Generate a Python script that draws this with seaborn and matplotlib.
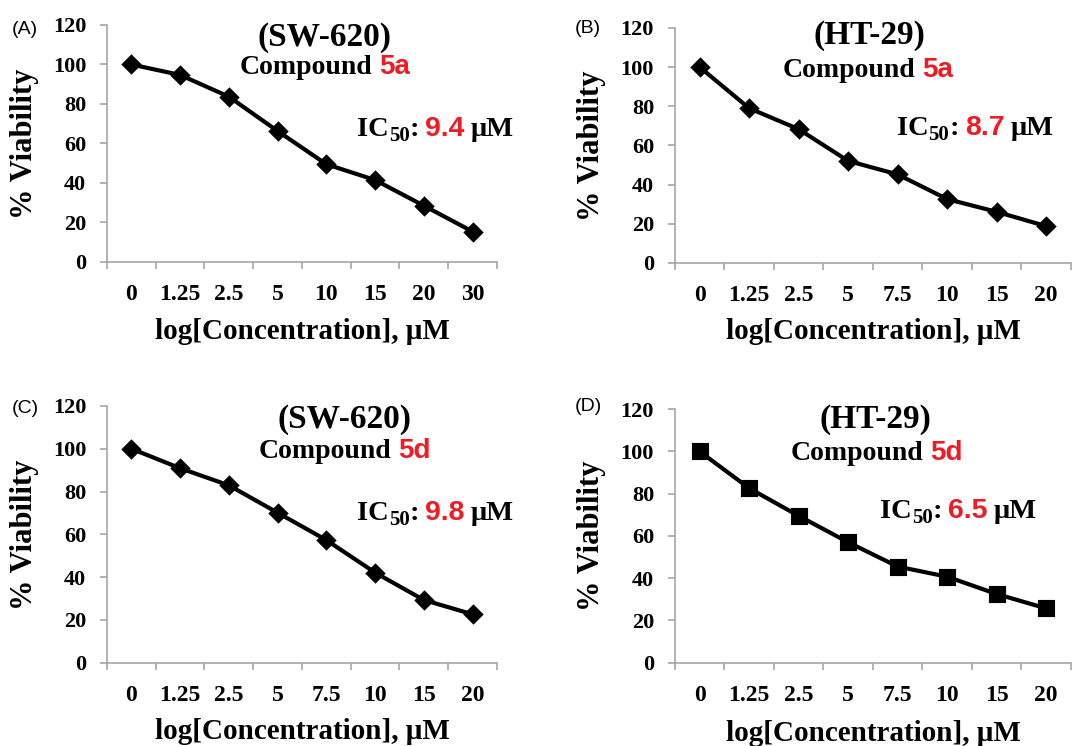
import matplotlib
matplotlib.use("Agg")
import matplotlib.pyplot as plt
from matplotlib.transforms import IdentityTransform
from matplotlib.ticker import FixedLocator
import seaborn as sns
import pandas as pd

# ---------------- data ----------------
conc_a = ['0', '1.25', '2.5', '5', '10', '15', '20', '30']
conc_b = ['0', '1.25', '2.5', '5', '7.5', '10', '15', '20']
via_a = [100, 94.7, 83.7, 66.3, 49.5, 41.5, 28.5, 15.4]   # SW-620, 5a
via_b = [100, 79.0, 68.3, 52.1, 45.2, 32.6, 26.1, 18.8]   # HT-29, 5a
via_c = [100, 90.9, 82.9, 70.1, 57.3, 42.1, 29.3, 22.6]   # SW-620, 5d
via_d = [100, 82.6, 69.5, 57.0, 45.5, 40.7, 32.5, 25.7]   # HT-29, 5d
panel_tags = ['(A)', '(B)', '(C)', '(D)']
cell_lines = ['(SW-620)', '(HT-29)', '(SW-620)', '(HT-29)']
compounds = ['5a', '5a', '5d', '5d']
ic50s = ['9.4', '8.7', '9.8', '6.5']
y_ticks = [0, 20, 40, 60, 80, 100, 120]

RED = '#EE1C25'
GRAY = '#A6A6A6'
SERIF = 'Liberation Serif'
SANS = 'Liberation Sans'

fig = plt.figure(figsize=(10.82, 7.46), dpi=100)
fig.patch.set_facecolor('white')

positions = [
    [0.0989, 0.6488, 0.3604, 0.3177],
    [0.6238, 0.6475, 0.3660, 0.3150],
    [0.0989, 0.1117, 0.3604, 0.3441],
    [0.6238, 0.1117, 0.3660, 0.3397],
]
series = [(conc_a, via_a), (conc_b, via_b), (conc_b, via_c), (conc_b, via_d)]
markers = ['D', 'D', 'D', 's']
msizes = [8, 8, 8, 10]

# text placement (axes fractions)
title_pos = [(0.559, 0.912), (0.492, 0.932), (0.61, 0.914), (0.507, 0.926)]
comp_pos = [(0.559, 0.792), (0.487, 0.792), (0.61, 0.796), (0.51, 0.80)]
ic_pos = [(0.641, 0.532), (0.56, 0.545), (0.641, 0.556), (0.518, 0.571)]
tag_pos = [(12, 746 - 34), (575, 746 - 33), (12, 746 - 413), (575, 746 - 411)]
xlabel_y = [-0.236, -0.234, -0.215, -0.226]


def rich(ax, x, y, pieces, ha='left'):
    r = fig.canvas.get_renderer()
    X, Y = ax.transAxes.transform((x, y))
    arts = []
    cur = 0.0
    for s, kw in pieces:
        kw = dict(kw)
        dy = kw.pop('dy', 0.0)
        gap = kw.pop('gap', 0.0)
        cur += gap
        t = fig.text(X + cur, Y + dy, s, transform=IdentityTransform(),
                     va='baseline', ha='left', **kw)
        w = t.get_window_extent(r).width
        arts.append((t, X + cur, Y + dy))
        cur += w
    shift = -cur / 2 if ha == 'center' else 0.0
    for t, px, py in arts:
        t.set_position((px + shift, py))


serif_b = dict(family=SERIF, fontweight='bold', color='black')
sans_b = dict(family=SANS, fontweight='bold', color=RED)

for i in range(4):
    ax = fig.add_axes(positions[i])
    cats, vals = series[i]
    df = pd.DataFrame({'conc': cats, 'via': vals})
    sns.pointplot(data=df, x='conc', y='via', ax=ax, color='black',
                  markers=markers[i], linestyles='-', errorbar=None,
                  markersize=msizes[i], linewidth=3)
    ax.set_xlim(-0.5, len(cats) - 0.5)
    ax.set_ylim(0, 120)
    ax.set_yticks(y_ticks)
    ax.set_yticklabels([str(v) for v in y_ticks], fontfamily=SERIF,
                       fontweight='bold', fontsize=16)
    ax.set_xticks(range(len(cats)))
    ax.set_xticklabels(cats, fontfamily=SERIF, fontweight='bold', fontsize=17)
    ax.xaxis.set_minor_locator(FixedLocator([k - 0.5 for k in range(len(cats) + 1)]))
    ax.tick_params(axis='x', which='major', length=0, pad=16)
    ax.tick_params(axis='x', which='minor', length=5, width=1.2, color=GRAY)
    ax.tick_params(axis='y', which='major', length=5, width=1.2, color=GRAY, pad=10)
    for sp in ['top', 'right']:
        ax.spines[sp].set_visible(False)
    for sp in ['left', 'bottom']:
        ax.spines[sp].set_color(GRAY)
        ax.spines[sp].set_linewidth(1.2)
    ax.set_facecolor('white')
    ax.set_xlabel('log[Concentration], μM', fontfamily=SERIF,
                  fontweight='bold', fontsize=21)
    ax.set_ylabel('% Viability', fontfamily=SERIF, fontweight='bold', fontsize=22)
    ax.xaxis.set_label_coords(0.5, xlabel_y[i])
    ax.yaxis.set_label_coords(-0.175, 0.5)

    ax.text(title_pos[i][0], title_pos[i][1], cell_lines[i], transform=ax.transAxes,
            ha='center', va='baseline', fontsize=24, **serif_b)
    rich(ax, comp_pos[i][0], comp_pos[i][1],
         [('Compound', dict(fontsize=20, **serif_b)),
          (compounds[i], dict(fontsize=20, gap=7, **sans_b))], ha='center')
    rich(ax, ic_pos[i][0], ic_pos[i][1],
         [('IC', dict(fontsize=20.5, **serif_b)),
          ('50', dict(fontsize=15, dy=-5, **serif_b)),
          (':', dict(fontsize=20.5, **serif_b)),
          (ic50s[i], dict(fontsize=20.5, gap=6, **sans_b)),
          ('μM', dict(fontsize=20.5, gap=6, **serif_b))], ha='left')
    fig.text(tag_pos[i][0], tag_pos[i][1], panel_tags[i], transform=IdentityTransform(),
             family=SANS, fontsize=14, color='black', va='baseline', ha='left')

fig.savefig('out.png', dpi=100)
